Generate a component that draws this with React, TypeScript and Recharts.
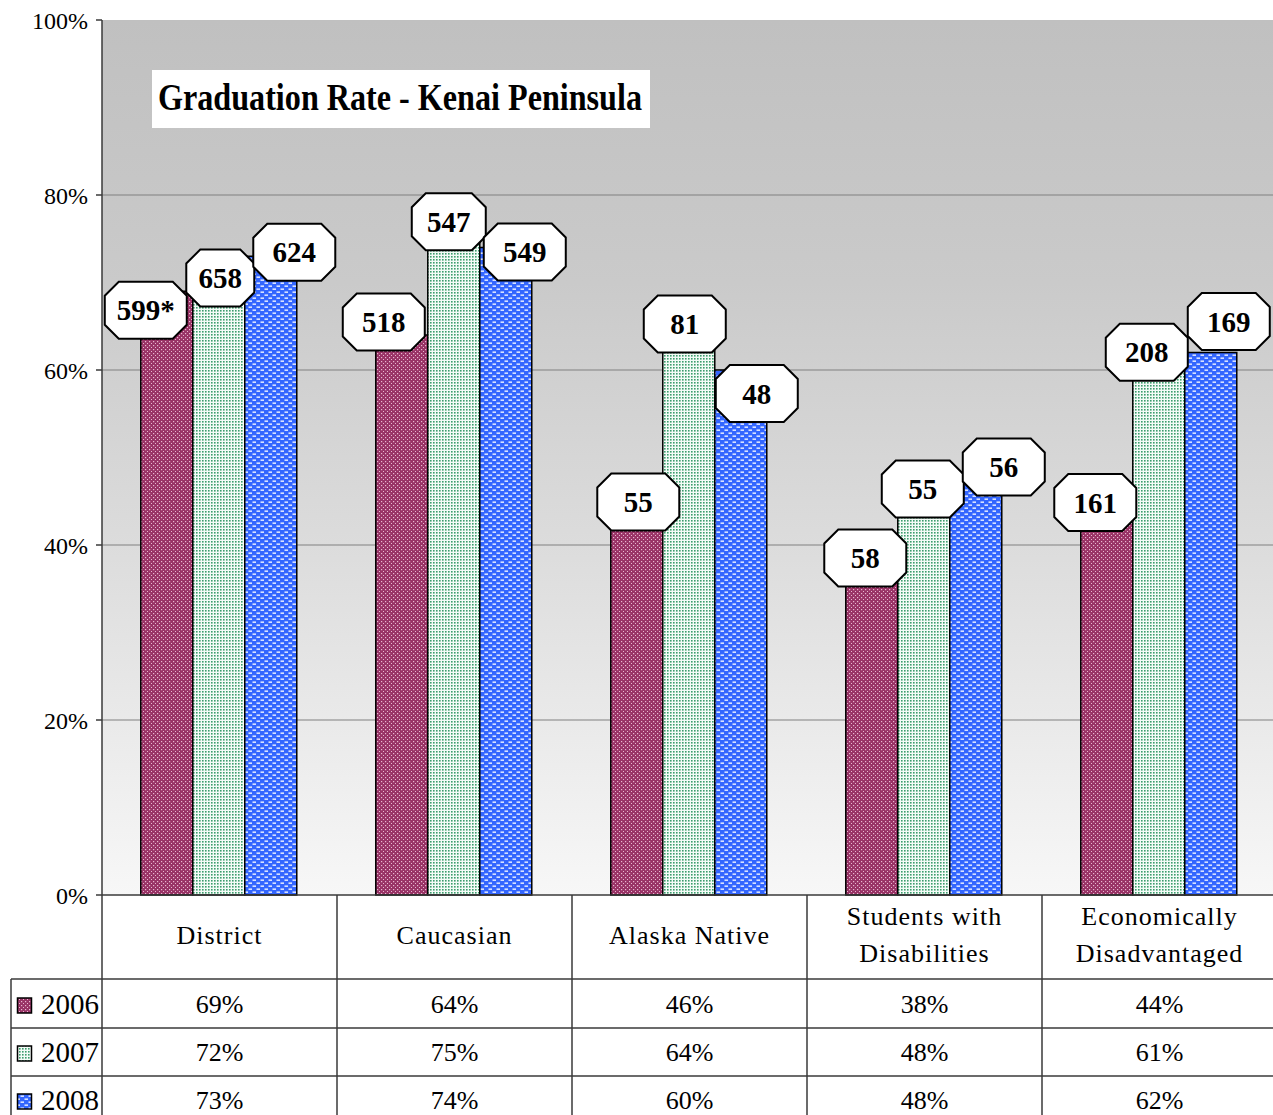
// @ts-nocheck
import { BarChart, Bar, XAxis, YAxis, CartesianGrid, LabelList } from 'recharts';

// 类别与数据
const categories = ['District', 'Caucasian', 'Alaska Native', 'Students with Disabilities', 'Economically Disadvantaged'];
const categoryLines = [['District'], ['Caucasian'], ['Alaska Native'], ['Students with', 'Disabilities'], ['Economically', 'Disadvantaged']];
const years = ['2006', '2007', '2008'];
const rate2006 = [69, 64, 46, 38, 44];
const rate2007 = [72, 75, 64, 48, 61];
const rate2008 = [73, 74, 60, 48, 62];
const count2006 = ['599*', '518', '55', '58', '161'];
const count2007 = ['658', '547', '81', '55', '208'];
const count2008 = ['624', '549', '48', '56', '169'];
const yTicks = [0, 20, 40, 60, 80, 100];
const gridValues = [20, 40, 60, 80];

const rates = [rate2006, rate2007, rate2008];
const counts = [count2006, count2007, count2008];

// 标签位置微调 [dx, dy, 宽度]
const nudge2006 = [[-21, 19, 82], [-18, -13, 82], [1.5, 9.5, 82], [-6.5, -4.5, 82], [-11.5, -7.5, 82]];
const nudge2007 = [[1.5, 13, 68], [-5, -17, 74], [-4, -11, 82], [-1, 14, 82], [-12, -9, 82]];
const nudge2008 = [[23.5, -4, 82], [19, 4.5, 82], [16, 23.5, 82], [28, -8, 82], [18, -31, 82]];
const nudges = [nudge2006, nudge2007, nudge2008];

const data = categories.map((name, i) => ({
  name,
  r2006: rate2006[i],
  r2007: rate2007[i],
  r2008: rate2008[i],
}));

const FONT = '"Liberation Serif", "Times New Roman", serif';
const CHART_W = 1277;
const CHART_H = 1115;
const LEFT = 102;
const TOP = 20;
const AXIS_H = 220;
const PLOT_BOTTOM = CHART_H - AXIS_H;
const BAND = (CHART_W - LEFT) / categories.length;
const ROW_LINES = [979, 1028, 1076];
const ROW_BASE = [1013, 1061, 1109];
const LINE = '#3a3a3a';
const patternIds = ['p2006', 'p2007', 'p2008'];

function octagon(cx, cy, w, h, c) {
  const l = cx - w / 2, r = cx + w / 2, t = cy - h / 2, b = cy + h / 2;
  return [
    [l + c, t], [r - c, t], [r, t + c], [r, b - c],
    [r - c, b], [l + c, b], [l, b - c], [l, t + c],
  ].map((p) => p.join(',')).join(' ');
}

// 三个系列的标签统一画在最后一个系列上，保证在所有柱子之上
function renderLabels(props) {
  const vb = props.viewBox && props.viewBox.width != null ? props.viewBox : props;
  const x = Number(vb.x), y = Number(vb.y), w = Number(vb.width), h = Number(vb.height);
  const i = props.index;
  const base = y + h;
  const perUnit = h / rate2008[i];
  return (
    <g>
      {[0, 1, 2].map((s) => {
        const [dx, dy, bw] = nudges[s][i];
        const cx = x - (2 - s) * w + w / 2 + dx;
        const cy = base - rates[s][i] * perUnit + dy;
        return (
          <g key={s}>
            <polygon points={octagon(cx, cy, bw, 57, 14)} fill="#fff" stroke="#000" strokeWidth={2} />
            <text x={cx} y={cy + 10} textAnchor="middle" fontFamily={FONT} fontWeight="bold" fontSize={29} fill="#000">
              {counts[s][i]}
            </text>
          </g>
        );
      })}
    </g>
  );
}

// 底部数据表
function TableTick(props) {
  const { x, payload } = props;
  const i = payload && payload.index != null ? payload.index : props.index;
  const left = x - BAND / 2;
  const lines = categoryLines[i] || [];
  return (
    <g>
      {i === 0 && (
        <g>
          {ROW_LINES.map((ly) => (
            <line key={ly} x1={11} x2={CHART_W} y1={ly} y2={ly} stroke={LINE} strokeWidth={1.5} />
          ))}
          <line x1={11} x2={11} y1={ROW_LINES[0]} y2={CHART_H} stroke={LINE} strokeWidth={1.5} />
          {years.map((yr, k) => (
            <g key={yr}>
              <rect x={17.5} y={ROW_BASE[k] - 15} width={14} height={15} fill={`url(#${patternIds[k]})`} stroke="#000" strokeWidth={1.5} />
              <text x={41} y={ROW_BASE[k] + 1} fontFamily={FONT} fontSize={29} fill="#000">{yr}</text>
            </g>
          ))}
        </g>
      )}
      <line x1={left} x2={left} y1={PLOT_BOTTOM} y2={CHART_H} stroke={LINE} strokeWidth={1.5} />
      {lines.length === 1 ? (
        <text x={x} y={944} textAnchor="middle" fontFamily={FONT} fontSize={26} letterSpacing={1} fill="#000">{lines[0]}</text>
      ) : (
        lines.map((t, k) => (
          <text key={k} x={x} y={925 + k * 37} textAnchor="middle" fontFamily={FONT} fontSize={26} letterSpacing={1} fill="#000">{t}</text>
        ))
      )}
      {rates.map((r, k) => (
        <text key={k} x={x} y={ROW_BASE[k]} textAnchor="middle" fontFamily={FONT} fontSize={26} fill="#000">{r[i]}%</text>
      ))}
    </g>
  );
}

export default function App() {
  return (
    <div style={{ position: 'absolute', left: 0, top: 0, width: 1273, height: 1115, overflow: 'hidden', background: '#fff' }}>
      <BarChart
        width={CHART_W}
        height={CHART_H}
        data={data}
        margin={{ top: TOP, right: 0, bottom: 0, left: 0 }}
        barCategoryGap="16.5%"
        barGap={0}
      >
        <defs>
          <linearGradient id="bgGrad" x1="0" y1="0" x2="0" y2="1">
            <stop offset="0" stopColor="#c0c0c0" />
            <stop offset="0.3" stopColor="#cacaca" />
            <stop offset="0.6" stopColor="#dcdcdc" />
            <stop offset="1" stopColor="#f7f7f7" />
          </linearGradient>
          <pattern id="p2006" width="4" height="4" patternUnits="userSpaceOnUse">
            <rect width="4" height="4" fill="#993366" />
            <rect x="1" y="1" width="1.2" height="1.2" fill="#e8b8d0" />
            <rect x="3" y="3" width="1.2" height="1.2" fill="#e8b8d0" />
          </pattern>
          <pattern id="p2007" width="3" height="3" patternUnits="userSpaceOnUse">
            <rect width="3" height="3" fill="#f4fbf7" />
            <rect x="1" y="1" width="1.6" height="1.6" fill="#3d9d6d" />
          </pattern>
          <pattern id="p2008" width="8" height="6" patternUnits="userSpaceOnUse">
            <rect width="8" height="6" fill="#3366ff" />
            <rect x="0.5" y="0.5" width="3.5" height="1.3" fill="#ffffff" />
            <rect x="4.5" y="3.5" width="3.5" height="1.3" fill="#ffffff" />
          </pattern>
        </defs>
        <CartesianGrid
          vertical={false}
          horizontalValues={gridValues}
          stroke="#808080"
          strokeWidth={1.2}
          fill="url(#bgGrad)"
          fillOpacity={1}
        />
        <YAxis
          type="number"
          domain={[0, 100]}
          ticks={yTicks}
          width={LEFT}
          tickFormatter={(v) => `${v}%`}
          axisLine={{ stroke: LINE, strokeWidth: 1.5 }}
          tickLine={{ stroke: LINE, strokeWidth: 1.5 }}
          tickSize={6}
          tickMargin={8}
          tick={{ fill: '#000', fontSize: 24, fontFamily: FONT }}
        />
        <XAxis
          dataKey="name"
          height={AXIS_H}
          interval={0}
          tickLine={false}
          tickSize={0}
          axisLine={{ stroke: LINE, strokeWidth: 1.5 }}
          tick={<TableTick />}
        />
        <Bar dataKey="r2006" fill="url(#p2006)" stroke="#000" strokeWidth={1.5} isAnimationActive={false} />
        <Bar dataKey="r2007" fill="url(#p2007)" stroke="#000" strokeWidth={1.5} isAnimationActive={false} />
        <Bar dataKey="r2008" fill="url(#p2008)" stroke="#000" strokeWidth={1.5} isAnimationActive={false}>
          <LabelList dataKey="r2008" content={renderLabels} />
        </Bar>
      </BarChart>
      <svg width={1273} height={1115} style={{ position: 'absolute', left: 0, top: 0, pointerEvents: 'none' }}>
        <rect x={152} y={70} width={498} height={58} fill="#fff" />
        <text x={158} y={110} fontFamily={FONT} fontWeight="bold" fontSize={37} textLength={484} lengthAdjust="spacingAndGlyphs" fill="#000">
          Graduation Rate - Kenai Peninsula
        </text>
      </svg>
    </div>
  );
}
